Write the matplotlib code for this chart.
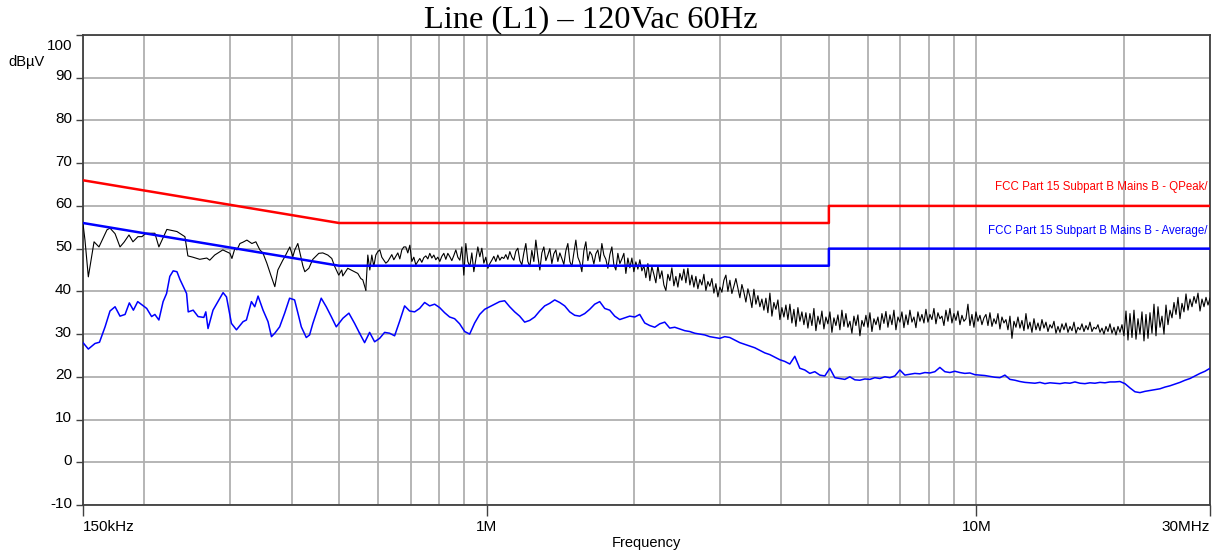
import numpy as np
import matplotlib
matplotlib.use("Agg")
import matplotlib.pyplot as plt
from matplotlib.transforms import ScaledTranslation

plt.rcParams["axes.unicode_minus"] = False

# ---------------- data ----------------
title = "Line (L1) \u2013 120Vac 60Hz"
y_unit = "dB\u00b5V"
x_label = "Frequency"
x_tick_vals = [0.15, 1, 10, 30]
x_tick_labels = ["150kHz", "1M", "10M", "30MHz"]
y_tick_vals = [-10, 0, 10, 20, 30, 40, 50, 60, 70, 80, 90, 100]

# limit lines (MHz, dBuV)
qp_limit_freq = [0.15, 0.5, 0.5, 5.0, 5.0, 30.0]
qp_limit_vals = [66, 56, 56, 56, 60, 60]
avg_limit_freq = [0.15, 0.5, 0.5, 5.0, 5.0, 30.0]
avg_limit_vals = [56, 46, 46, 46, 50, 50]
qp_limit_label = "FCC Part 15 Subpart B Mains B - QPeak/"
avg_limit_label = "FCC Part 15 Subpart B Mains B - Average/"

# peak trace, low-frequency part (explicit points)
peak_lo_freq = [0.1500, 0.1514, 0.1538, 0.1580, 0.1617, 0.1679, 0.1703, 0.1744,
                0.1785, 0.1819, 0.1862, 0.1897, 0.1942, 0.1979, 0.2016, 0.2103,
                0.2143, 0.2225, 0.2333, 0.2422, 0.2456, 0.2514, 0.2597, 0.2684,
                0.2722, 0.2786, 0.2894, 0.2993, 0.3021, 0.3064, 0.3093, 0.3137,
                0.3181, 0.3241, 0.3318, 0.3381, 0.3445, 0.3494, 0.3560, 0.3627,
                0.3696, 0.3749, 0.3838, 0.3874, 0.3966, 0.4022, 0.4060, 0.4118,
                0.4177, 0.4216, 0.4256, 0.4337, 0.4419, 0.4545, 0.4631, 0.4741,
                0.4831, 0.4899, 0.4992, 0.5063, 0.5087, 0.5208, 0.5332, 0.5459,
                0.5537, 0.5589, 0.5669]
peak_lo_vals = [55.8, 52.0, 43.4, 51.6, 50.4, 54.4, 54.8, 53.5,
                50.4, 51.5, 53.2, 51.6, 52.8, 52.8, 53.6, 53.6,
                50.4, 54.5, 54.0, 52.8, 48.3, 48.0, 47.5, 47.8,
                47.3, 48.5, 49.7, 48.9, 47.7, 50.1, 49.7, 51.2,
                51.5, 52.0, 51.2, 51.6, 49.7, 49.0, 46.6, 43.8,
                41.1, 45.0, 47.3, 48.1, 50.4, 48.1, 49.7, 51.2,
                48.1, 46.0, 44.6, 45.4, 47.5, 48.9, 49.0, 48.5,
                47.7, 45.8, 43.8, 45.0, 43.6, 45.4, 44.8, 44.2,
                43.0, 42.7, 40.3]

# peak trace, swept part 0.567 MHz .. 30 MHz (log-spaced sweep points)
peak_hi_start = 0.5669
peak_hi_stop = 30.0
peak_hi_vals = [
    40.3, 48.5, 45.0, 48.5, 45.8, 48.5, 49.3, 49.7, 48.0, 47.3,
    46.6, 47.0, 47.8, 48.6, 47.4, 48.2, 49.0, 47.6, 49.7, 50.4,
    50.4, 49.0, 50.8, 47.0, 48.0, 46.2, 47.0, 47.7, 46.8, 47.9,
    48.3, 47.6, 48.9, 47.8, 48.5, 47.4, 48.0, 47.0, 48.2, 48.9,
    47.5, 48.9, 48.1, 47.2, 48.4, 49.7, 48.0, 47.3, 50.4, 43.8,
    51.2, 47.0, 45.8, 49.0, 44.6, 47.5, 50.4, 48.1, 50.1, 46.6,
    48.0, 45.4, 46.5, 47.3, 48.2, 47.0, 48.5, 47.3, 48.0, 47.7,
    48.6, 47.5, 49.3, 48.0, 47.3, 49.4, 50.1, 47.2, 46.2, 49.0,
    51.2, 47.0, 45.8, 49.6, 47.0, 52.0, 48.2, 45.0, 49.0, 50.4,
    47.2, 48.5, 50.0, 46.5, 48.8, 49.7, 47.0, 49.0, 47.7, 46.3,
    49.5, 51.2, 47.0, 45.8, 49.0, 52.0, 48.0, 46.8, 44.6, 49.5,
    51.6, 47.2, 49.3, 48.5, 46.4, 48.8, 49.7, 47.0, 51.2, 48.5,
    47.5, 45.4, 48.6, 50.4, 46.2, 45.0, 48.9, 46.5, 47.6, 48.9,
    44.2, 47.8, 45.5, 47.8, 44.6, 46.9, 45.2, 47.4, 44.8, 46.0,
    43.2, 46.5, 42.5, 45.8, 44.0, 42.0, 46.0, 43.0, 44.8, 41.5,
    40.2, 44.0, 42.5, 45.5, 41.3, 43.5, 41.0, 44.2, 42.6, 45.2,
    42.0, 45.4, 41.5, 43.8, 41.0, 43.5, 40.6, 42.8, 41.5, 44.0,
    40.2, 42.3, 41.2, 43.0, 39.6, 41.8, 38.7, 41.0, 39.8, 42.6,
    43.8, 40.0, 42.6, 39.5, 41.2, 43.0, 40.8, 38.5, 41.6, 39.8,
    37.5, 40.6, 38.8, 36.2, 40.5, 37.0, 39.0, 36.4, 38.2, 35.6,
    38.4, 35.0, 39.6, 34.2, 37.4, 35.8, 38.0, 33.4, 36.2, 34.0,
    36.8, 33.4, 37.0, 32.6, 35.8, 31.8, 36.2, 33.0, 35.2, 32.2,
    35.0, 31.4, 34.8, 32.0, 36.0, 30.8, 34.2, 32.3, 35.4, 31.2,
    34.0, 32.4, 35.2, 30.4, 33.8, 32.0, 34.5, 31.0, 35.6, 31.8,
    34.8, 31.6, 33.0, 30.2, 34.2, 32.0, 34.5, 29.6, 33.2, 31.8,
    34.4, 31.6, 35.0, 30.6, 33.6, 32.2, 34.0, 31.0, 34.8, 32.5,
    35.3, 31.6, 34.5, 32.2, 35.6, 31.0, 34.0, 32.8, 35.2, 31.5,
    34.5, 32.2, 35.6, 32.8, 34.0, 31.5, 35.2, 33.0, 34.6, 32.6,
    35.8, 32.8, 34.6, 33.4, 36.0, 32.4, 35.0, 33.6, 34.2, 32.0,
    35.6, 33.0, 36.0, 32.6, 34.8, 33.2, 35.4, 32.2, 34.4, 33.0,
    33.6, 37.0, 32.0, 34.6, 31.6, 35.2, 33.0, 34.4, 32.2, 33.8,
    34.6, 32.0, 35.0, 31.8, 33.6, 32.4, 34.8, 31.2, 34.0, 32.6,
    33.4, 31.0, 34.2, 29.0, 33.0, 31.6, 34.0, 31.4, 33.2, 30.8,
    34.8, 31.2, 32.8, 30.4, 33.6, 31.0, 32.6, 30.8, 33.4, 31.4,
    32.8, 30.6, 32.2, 31.4, 33.0, 30.2, 31.8, 30.4, 32.4, 31.0,
    32.6, 30.4, 31.8, 30.8, 32.8, 30.2, 31.6, 31.0, 32.4, 30.6,
    32.0, 31.0, 32.8, 30.6, 31.6, 31.2, 32.2, 30.4, 31.4, 30.0,
    31.8, 30.6, 32.4, 30.2, 31.6, 29.8, 31.8, 30.4, 32.2, 29.6,
    35.4, 28.6, 34.8, 29.2, 35.6, 28.8, 33.6, 30.0, 35.2, 28.4,
    34.6, 29.0, 35.0, 30.2, 37.0, 29.6, 36.4, 31.6, 34.2, 30.0,
    36.8, 32.2, 35.6, 33.8, 37.4, 34.6, 38.6, 33.6, 37.2, 35.2,
    39.4, 35.6, 38.2, 36.4, 38.8, 37.2, 39.6, 35.4, 38.2, 36.4,
    38.6, 36.8, 38.4]

# average trace, low-frequency part (explicit points)
avg_lo_freq = [0.1500, 0.1538, 0.1587, 0.1621, 0.1664, 0.1703, 0.1744, 0.1785,
               0.1828, 0.1865, 0.1901, 0.1940, 0.2024, 0.2071, 0.2103, 0.2143,
               0.2186, 0.2222, 0.2256, 0.2292, 0.2333, 0.2366, 0.2441, 0.2460,
               0.2518, 0.2577, 0.2647, 0.2672, 0.2700, 0.2764, 0.2898, 0.2945,
               0.3014, 0.3086, 0.3183, 0.3234, 0.3311, 0.3363, 0.3416, 0.3497,
               0.3580, 0.3638, 0.3695, 0.3781, 0.3871, 0.3962, 0.4056, 0.4120,
               0.4186, 0.4285, 0.4352, 0.4420, 0.4597, 0.4707, 0.4819, 0.4934,
               0.5090, 0.5236, 0.5378, 0.5506]
avg_lo_vals = [28.0, 26.5, 27.8, 28.1, 31.7, 35.4, 36.4, 34.2,
               34.6, 37.3, 35.6, 37.6, 36.0, 34.1, 34.6, 33.3,
               37.6, 39.5, 43.5, 44.8, 44.6, 42.8, 39.5, 35.2,
               35.6, 34.1, 33.9, 35.2, 31.3, 35.6, 39.7, 38.7,
               32.5, 31.0, 32.9, 33.3, 37.6, 36.4, 38.9, 35.6,
               32.9, 29.4, 30.2, 31.7, 34.9, 38.4, 38.0, 34.9,
               31.7, 29.2, 29.8, 32.5, 38.4, 36.4, 34.1, 31.7,
               33.7, 34.9, 32.5, 30.2]

# average trace, swept part 0.5506 MHz .. 30 MHz (log-spaced sweep points)
avg_hi_start = 0.5506
avg_hi_stop = 30.0
avg_hi_vals = [
    30.2, 28.0, 30.4, 28.2, 29.0, 30.4, 30.2, 29.6, 33.0, 36.6,
    35.4, 35.2, 36.0, 37.4, 36.6, 37.0, 36.2, 35.0, 34.0, 33.6,
    32.4, 30.6, 30.0, 32.6, 34.6, 35.8, 36.4, 37.0, 37.6, 37.8,
    36.4, 35.2, 34.2, 32.8, 33.2, 34.0, 35.4, 36.6, 37.2, 38.0,
    37.4, 36.6, 35.2, 34.4, 34.2, 34.8, 35.8, 37.0, 37.6, 36.0,
    35.6, 34.2, 33.4, 33.8, 34.2, 34.0, 34.6, 32.6, 32.0, 31.6,
    32.4, 32.8, 31.4, 31.6, 31.2, 30.8, 30.6, 30.2, 30.0, 29.8,
    29.4, 29.2, 29.0, 29.4, 29.2, 28.6, 28.0, 27.6, 27.2, 26.8,
    26.2, 25.6, 25.2, 24.6, 24.0, 23.6, 23.0, 24.8, 22.0, 21.6,
    20.8, 21.2, 20.4, 20.2, 22.0, 19.8, 19.6, 19.4, 20.0, 19.3,
    19.2, 19.5, 19.4, 19.8, 19.6, 20.0, 19.8, 20.2, 21.6, 20.4,
    20.6, 20.8, 20.7, 21.0, 20.9, 21.2, 22.2, 21.2, 21.0, 21.3,
    21.0, 20.8, 20.9, 20.5, 20.4, 20.3, 20.1, 19.9, 19.8, 20.4,
    19.4, 19.2, 18.9, 18.7, 18.6, 18.5, 18.7, 18.4, 18.6, 18.5,
    18.4, 18.6, 18.5, 18.8, 18.5, 18.4, 18.6, 18.5, 18.7, 18.6,
    18.8, 18.8, 18.9, 18.4, 17.4, 16.5, 16.3, 16.6, 16.8, 17.0,
    17.2, 17.6, 17.9, 18.3, 18.7, 19.2, 19.6, 20.2, 20.8, 21.3,
    22.0]

# ---------------- figure ----------------
W, H, DPI = 1215, 552, 100
fig = plt.figure(figsize=(W / DPI, H / DPI), dpi=DPI)
ax = fig.add_axes([83 / W, 1 - 505 / H, (1210 - 83) / W, (505 - 35) / H])

sans = ["Liberation Sans", "DejaVu Sans"]
serif = ["Liberation Serif", "DejaVu Serif"]

peak_hi_freq = np.geomspace(peak_hi_start, peak_hi_stop, len(peak_hi_vals))
avg_hi_freq = np.geomspace(avg_hi_start, avg_hi_stop, len(avg_hi_vals))

ax.plot(avg_lo_freq, avg_lo_vals, color="#0000ff", lw=1.1, zorder=3)
ax.plot(avg_hi_freq, avg_hi_vals, color="#0000ff", lw=1.1, zorder=3)
ax.plot(peak_lo_freq, peak_lo_vals, color="black", lw=0.8, zorder=3)
ax.plot(peak_hi_freq, peak_hi_vals, color="black", lw=0.8, zorder=3)
ax.plot(qp_limit_freq, qp_limit_vals, color="#ff0000", lw=1.8, zorder=4)
ax.plot(avg_limit_freq, avg_limit_vals, color="#0000ff", lw=1.8, zorder=4)

ax.text(0.998, 64.4, qp_limit_label, color="#ff0000", fontsize=8.3,
        family=sans, ha="right", va="center",
        transform=ax.get_yaxis_transform())
ax.text(0.998, 54.1, avg_limit_label, color="#0000ff", fontsize=8.3,
        family=sans, ha="right", va="center",
        transform=ax.get_yaxis_transform())

ax.set_xscale("log")
ax.set_xlim(0.15, 30)
ax.set_ylim(-10, 100)

ax.set_xticks(x_tick_vals)
ax.set_xticklabels(x_tick_labels)
minor = [0.2, 0.3, 0.4, 0.5, 0.6, 0.7, 0.8, 0.9,
         2, 3, 4, 5, 6, 7, 8, 9, 20]
ax.set_xticks(minor, minor=True)
ax.set_yticks(y_tick_vals)

ax.grid(True, which="both", color="#b0b0b0", lw=1.3, zorder=0)
ax.set_axisbelow(True)
ax.tick_params(axis="x", which="major", length=8, width=1, color="#404040",
               pad=3, labelsize=11)
ax.tick_params(axis="x", which="minor", length=0)
ax.tick_params(axis="y", length=5, width=1, color="#404040", pad=3,
               labelsize=11)
for lab in ax.get_xticklabels() + ax.get_yticklabels():
    lab.set_family(sans)

xl = ax.get_xticklabels()
xl[0].set_horizontalalignment("left")
xl[-1].set_horizontalalignment("right")

for lab in ax.get_yticklabels():
    dy = -9 if lab.get_text() == "100" else 3
    lab.set_transform(lab.get_transform() +
                      ScaledTranslation(0, dy / DPI, fig.dpi_scale_trans))

for s in ax.spines.values():
    s.set_color("#404040")
    s.set_linewidth(1.3)

ax.set_xlabel(x_label, family=sans, fontsize=10.5, labelpad=1)
fig.text(8 / W, 1 - 62 / H, y_unit, family=sans, fontsize=10.5,
         ha="left", va="center")
fig.text(591 / W, 1 - 27 / H, title, family=serif, fontsize=23.4,
         ha="center", va="baseline")

fig.savefig("out.png", dpi=DPI)
